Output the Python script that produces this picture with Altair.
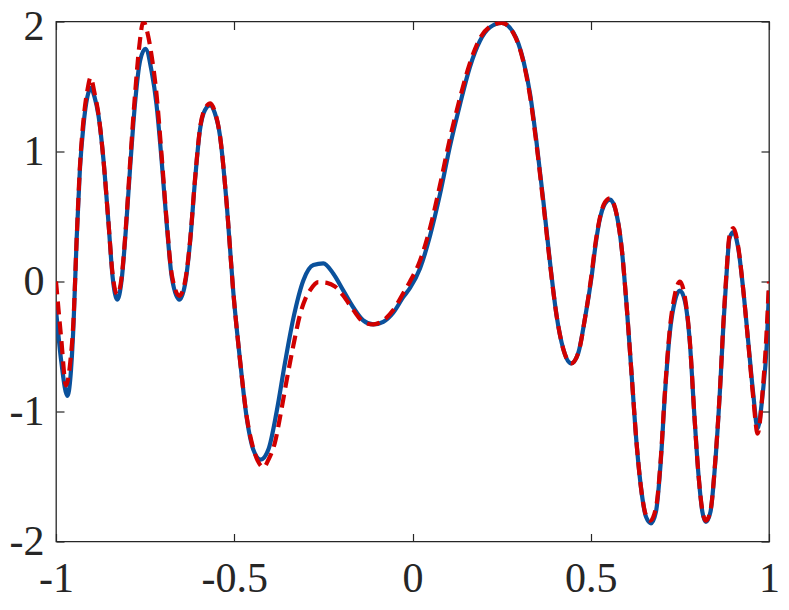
import altair as alt
import pandas as pd

# ---- data ----
x_blue = [-1.000, -0.985, -0.968, -0.959, -0.951, -0.942, -0.933, -0.923, -0.912, -0.902,
          -0.892, -0.881, -0.867, -0.853, -0.841, -0.828, -0.816, -0.804, -0.792, -0.778,
          -0.764, -0.749, -0.732, -0.718, -0.704, -0.690, -0.675, -0.654, -0.638, -0.624,
          -0.610, -0.596, -0.582, -0.568, -0.555, -0.540, -0.521, -0.503, -0.484, -0.465,
          -0.447, -0.426, -0.404, -0.381, -0.358, -0.334, -0.306, -0.278, -0.250, -0.222,
          -0.194, -0.166, -0.138, -0.110, -0.082, -0.054, -0.026, -0.007, 0.021, 0.049,
          0.077, 0.105, 0.133, 0.161, 0.189, 0.217, 0.250, 0.283, 0.311, 0.330,
          0.348, 0.367, 0.386, 0.404, 0.423, 0.445, 0.465, 0.484, 0.503, 0.512,
          0.524, 0.540, 0.554, 0.573, 0.587, 0.601, 0.615, 0.629, 0.643, 0.655,
          0.669, 0.683, 0.696, 0.708, 0.722, 0.736, 0.750, 0.764, 0.778, 0.790,
          0.802, 0.813, 0.823, 0.836, 0.849, 0.863, 0.872, 0.881, 0.889, 0.900,
          0.914, 0.928, 0.942, 0.956, 0.968, 0.982, 0.994, 1.000]
y_blue = [-0.22, -0.62, -0.88, -0.72, -0.34, 0.33, 0.86, 1.20, 1.42, 1.49,
          1.42, 1.28, 0.94, 0.46, 0.03, -0.14, 0.01, 0.40, 0.88, 1.38,
          1.70, 1.79, 1.62, 1.36, 0.94, 0.46, 0.03, -0.14, -0.02, 0.30,
          0.78, 1.17, 1.32, 1.355, 1.30, 1.12, 0.59, -0.07, -0.60, -1.05,
          -1.29, -1.37, -1.29, -1.00, -0.63, -0.28, 0.01, 0.127, 0.14, 0.06,
          -0.07, -0.20, -0.30, -0.33, -0.31, -0.24, -0.12, -0.05, 0.10, 0.35,
          0.67, 1.04, 1.36, 1.65, 1.85, 1.955, 1.99, 1.915, 1.70, 1.44,
          1.07, 0.62, 0.14, -0.26, -0.52, -0.63, -0.55, -0.28, 0.05, 0.25,
          0.46, 0.60, 0.63, 0.51, 0.25, -0.20, -0.73, -1.26, -1.63, -1.81,
          -1.86, -1.77, -1.40, -0.87, -0.39, -0.15, -0.07, -0.15, -0.47, -1.00,
          -1.48, -1.77, -1.85, -1.77, -1.40, -0.81, -0.34, 0.06, 0.33, 0.38,
          0.25, -0.07, -0.47, -0.87, -1.13, -0.87, -0.47, -0.07]

x_red = [-1.000, -0.985, -0.972, -0.960, -0.951, -0.942, -0.933, -0.923, -0.912, -0.903,
         -0.892, -0.881, -0.867, -0.853, -0.841, -0.828, -0.816, -0.804, -0.792, -0.778,
         -0.766, -0.755, -0.744, -0.732, -0.718, -0.704, -0.690, -0.675, -0.654, -0.638,
         -0.624, -0.610, -0.596, -0.582, -0.567, -0.555, -0.540, -0.521, -0.503, -0.484,
         -0.465, -0.447, -0.430, -0.418, -0.404, -0.386, -0.370, -0.353, -0.334, -0.316,
         -0.300, -0.288, -0.264, -0.240, -0.217, -0.194, -0.166, -0.138, -0.110, -0.082,
         -0.054, -0.026, -0.007, 0.021, 0.049, 0.077, 0.105, 0.133, 0.161, 0.189,
         0.217, 0.250, 0.283, 0.311, 0.330, 0.348, 0.367, 0.386, 0.404, 0.423,
         0.445, 0.465, 0.484, 0.503, 0.512, 0.524, 0.540, 0.554, 0.573, 0.587,
         0.601, 0.615, 0.629, 0.643, 0.655, 0.667, 0.683, 0.696, 0.708, 0.722,
         0.736, 0.750, 0.764, 0.778, 0.790, 0.802, 0.813, 0.823, 0.836, 0.849,
         0.863, 0.872, 0.881, 0.889, 0.900, 0.914, 0.928, 0.942, 0.956, 0.968,
         0.982, 0.994, 1.000]
y_red = [0.00, -0.45, -0.80, -0.62, -0.30, 0.33, 0.88, 1.24, 1.47, 1.57,
         1.45, 1.29, 0.94, 0.46, 0.05, -0.10, 0.03, 0.42, 0.92, 1.45,
         1.82, 2.00, 1.92, 1.74, 1.44, 0.98, 0.48, 0.05, -0.11, 0.00,
         0.31, 0.79, 1.18, 1.33, 1.37, 1.31, 1.12, 0.59, -0.07, -0.60,
         -1.04, -1.28, -1.40, -1.43, -1.37, -1.24, -1.02, -0.76, -0.49, -0.26,
         -0.13, -0.07, -0.005, -0.01, -0.04, -0.11, -0.22, -0.31, -0.33, -0.30,
         -0.22, -0.09, 0.00, 0.16, 0.41, 0.74, 1.10, 1.41, 1.68, 1.87,
         1.96, 1.99, 1.91, 1.69, 1.42, 1.05, 0.60, 0.13, -0.26, -0.52,
         -0.63, -0.55, -0.28, 0.07, 0.27, 0.47, 0.61, 0.64, 0.51, 0.25,
         -0.20, -0.73, -1.26, -1.63, -1.80, -1.84, -1.74, -1.38, -0.85, -0.36,
         -0.10, 0.00, -0.12, -0.46, -1.00, -1.48, -1.76, -1.84, -1.76, -1.39,
         -0.80, -0.32, 0.08, 0.35, 0.41, 0.26, -0.07, -0.48, -0.90, -1.17,
         -0.85, -0.35, 0.00]

x_ticks = [-1, -0.5, 0, 0.5, 1]
y_ticks = [-2, -1, 0, 1, 2]

blue_df = pd.DataFrame({"x": x_blue, "y": y_blue})
red_df = pd.DataFrame({"x": x_red, "y": y_red})

FONT = "Liberation Serif"
AX = "#262626"
TICK = 8
FS = 42

xscale = alt.Scale(domain=[-1, 1], nice=False, zero=False)
yscale = alt.Scale(domain=[-2, 2], nice=False, zero=False)

common_axis = dict(domain=False, grid=False, ticks=True, tickSize=TICK, tickColor=AX,
                   tickWidth=1.2, offset=-TICK, title=None)

blue = alt.Chart(blue_df).mark_line(
    color="#0A519C", strokeWidth=4.2, interpolate="monotone", clip=True
).encode(
    x=alt.X("x:Q", scale=xscale,
            axis=alt.Axis(orient="bottom", values=x_ticks, labelExpr="toString(datum.value)",
                          labelFont=FONT, labelFontSize=FS, labelColor=AX, labelPadding=17,
                          labelFlush=False, labelBaseline="top", **common_axis)),
    y=alt.Y("y:Q", scale=yscale,
            axis=alt.Axis(orient="left", values=y_ticks, labelExpr="toString(datum.value)",
                          labelFont=FONT, labelFontSize=FS, labelColor=AX, labelPadding=12,
                          labelFlush=False, labelBaseline="middle",
                          labelOffset={"condition": {"test": "datum.value == 2", "value": 5},
                                       "value": 0},
                          **common_axis)),
)

red = alt.Chart(red_df).mark_line(
    color="#D10000", strokeWidth=4.2, strokeDash=[13, 7], interpolate="monotone", clip=True
).encode(
    x=alt.X("x:Q", scale=xscale,
            axis=alt.Axis(orient="top", values=x_ticks, labels=False, **common_axis)),
    y=alt.Y("y:Q", scale=yscale,
            axis=alt.Axis(orient="right", values=y_ticks, labels=False, **common_axis)),
)

chart = alt.layer(blue, red).properties(
    width=713, height=520,
    autosize=alt.AutoSizeParams(type="none"),
    padding={"left": 48, "top": 13.5, "right": 12, "bottom": 60},
    background="white",
).configure_view(stroke=AX, strokeWidth=1.3)

chart.save("out.html", embed_options={"renderer": "svg", "actions": False})
